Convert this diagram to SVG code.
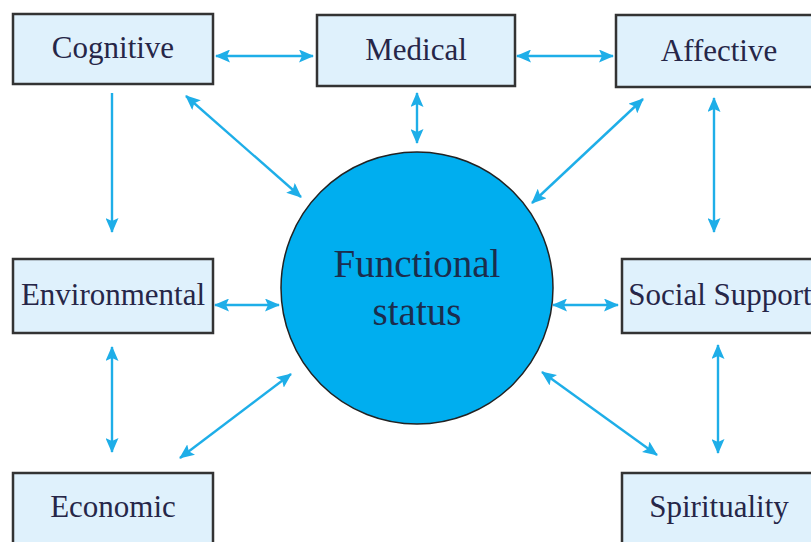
<svg xmlns="http://www.w3.org/2000/svg" width="811" height="542" viewBox="0 0 811 542">
<defs>
<style>
.box{fill:#dff1fc;stroke:#333;stroke-width:2.5}
.lbl{font-family:"Liberation Serif","Times New Roman",serif;font-size:31px;fill:#262648;text-anchor:middle}
.ctr{font-family:"Liberation Serif","Times New Roman",serif;font-size:39px;fill:#1b2d4d;text-anchor:middle}
.arr{stroke:#1eaee8;stroke-width:2.4;fill:none;marker-end:url(#ah)}
.both{marker-start:url(#ah)}
</style>
<marker id="ah" markerUnits="userSpaceOnUse" markerWidth="15" markerHeight="13" refX="14" refY="6.5" orient="auto-start-reverse" viewBox="0 0 15 13">
<path d="M0,0 L15,6.5 L0,13 L3,6.5 z" fill="#1eaee8"/>
</marker>
</defs>
<g id="connectors">
<line class="arr both" x1="216" y1="56" x2="313" y2="56"/>
<line class="arr both" x1="517" y1="56" x2="613" y2="56"/>
<line class="arr" x1="112" y1="93" x2="112" y2="232"/>
<line class="arr both" x1="186" y1="96" x2="301" y2="197"/>
<line class="arr both" x1="417" y1="93" x2="417" y2="143"/>
<line class="arr both" x1="643" y1="99" x2="532" y2="203"/>
<line class="arr both" x1="714" y1="98" x2="714" y2="232"/>
<line class="arr both" x1="215" y1="305" x2="279" y2="305"/>
<line class="arr both" x1="553" y1="305" x2="618" y2="305"/>
<line class="arr both" x1="112" y1="347" x2="112" y2="452"/>
<line class="arr both" x1="180" y1="458" x2="291" y2="374"/>
<line class="arr both" x1="718" y1="345" x2="718" y2="453"/>
<line class="arr both" x1="542" y1="372" x2="657" y2="455"/>
</g>
<g id="functional-status">
<circle cx="417" cy="288" r="136" fill="#00aeef" stroke="#222" stroke-width="1.5"/>
<text class="ctr" x="417" y="277">Functional</text>
<text class="ctr" x="417" y="325">status</text>
</g>
<g id="cognitive">
<rect class="box" x="13" y="14" width="200" height="70"/>
<text class="lbl" x="113" y="58">Cognitive</text>
</g>
<g id="medical">
<rect class="box" x="317" y="15" width="198" height="71"/>
<text class="lbl" x="416" y="60">Medical</text>
</g>
<g id="affective">
<rect class="box" x="616" y="15" width="210" height="72"/>
<text class="lbl" x="719" y="61">Affective</text>
</g>
<g id="environmental">
<rect class="box" x="13" y="259" width="200" height="74"/>
<text class="lbl" x="113" y="305">Environmental</text>
</g>
<g id="social-support">
<rect class="box" x="622" y="259" width="210" height="74"/>
<text class="lbl" x="720" y="305">Social Support</text>
</g>
<g id="economic">
<rect class="box" x="13" y="473" width="200" height="80"/>
<text class="lbl" x="113" y="517">Economic</text>
</g>
<g id="spirituality">
<rect class="box" x="622" y="473" width="210" height="80"/>
<text class="lbl" x="719" y="517">Spirituality</text>
</g>
</svg>
